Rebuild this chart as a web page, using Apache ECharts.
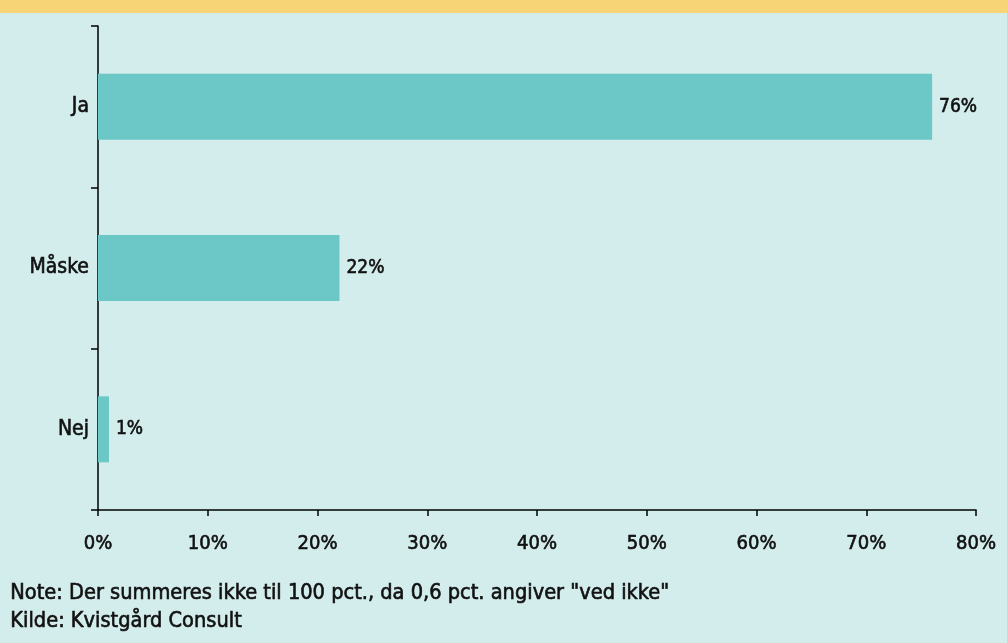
<!DOCTYPE html>
<html>
<head>
<meta charset="utf-8">
<script src="https://cdn.jsdelivr.net/npm/echarts@6/dist/echarts.min.js"></script>
<style>
  html, body { margin: 0; padding: 0; background: #d3ecec; }
  #chart { width: 1007px; height: 643px; }
</style>
</head>
<body>
<div id="chart"></div>
<script>
// data
const categories = ['Ja', 'Måske', 'Nej'];
const values = [76, 22, 1];
const xTicks = [0, 10, 20, 30, 40, 50, 60, 70, 80];
const noteLines = [
  'Note: Der summeres ikke til 100 pct., da 0,6 pct. angiver "ved ikke"',
  'Kilde: Kvistgård Consult'
];

const font = '"DejaVu Sans Condensed", "DejaVu Sans", sans-serif';
const ink = '#111';
// a thin outline in the text colour gives a "medium" weight
const medium = { textBorderColor: ink, textBorderWidth: 0.6 };
const chart = echarts.init(document.getElementById('chart'));

chart.setOption({
  backgroundColor: '#d3ecec',
  textStyle: { fontFamily: font },
  graphic: [
    { type: 'rect', left: 0, top: 0, shape: { width: 1007, height: 13 }, style: { fill: '#f7d577' } },
    {
      type: 'text', left: 10, top: 579,
      style: {
        text: noteLines.join('\n'), font: '21.6px ' + font,
        fill: ink, lineHeight: 28, stroke: ink, lineWidth: 0.6
      }
    }
  ],
  grid: { left: 98, right: 31, top: 26, bottom: 133 },
  xAxis: {
    type: 'value',
    min: xTicks[0],
    max: xTicks[xTicks.length - 1],
    interval: 10,
    splitLine: { show: false },
    axisLine: { show: true, lineStyle: { color: '#000', width: 1.5 } },
    axisTick: { show: true, length: 6, lineStyle: { color: '#000', width: 1.5 } },
    axisLabel: Object.assign({
      margin: 24, color: ink, fontSize: 20, fontFamily: font,
      formatter: v => v + '%'
    }, medium)
  },
  yAxis: {
    type: 'category',
    data: categories,
    inverse: true,
    axisLine: { show: true, lineStyle: { color: '#000', width: 1.5 } },
    axisTick: { show: true, length: 7, lineStyle: { color: '#000', width: 1.5 } },
    axisLabel: Object.assign({ margin: 9, color: ink, fontSize: 21, fontFamily: font }, medium)
  },
  series: [{
    type: 'bar',
    data: values,
    barWidth: 66,
    itemStyle: { color: '#6cc8c7' },
    label: Object.assign({
      show: true, position: 'right', distance: 7,
      color: ink, fontSize: 19, fontFamily: font,
      formatter: p => Math.round(p.value) + '%'
    }, medium),
    animation: false
  }],
  animation: false
});
</script>
</body>
</html>
